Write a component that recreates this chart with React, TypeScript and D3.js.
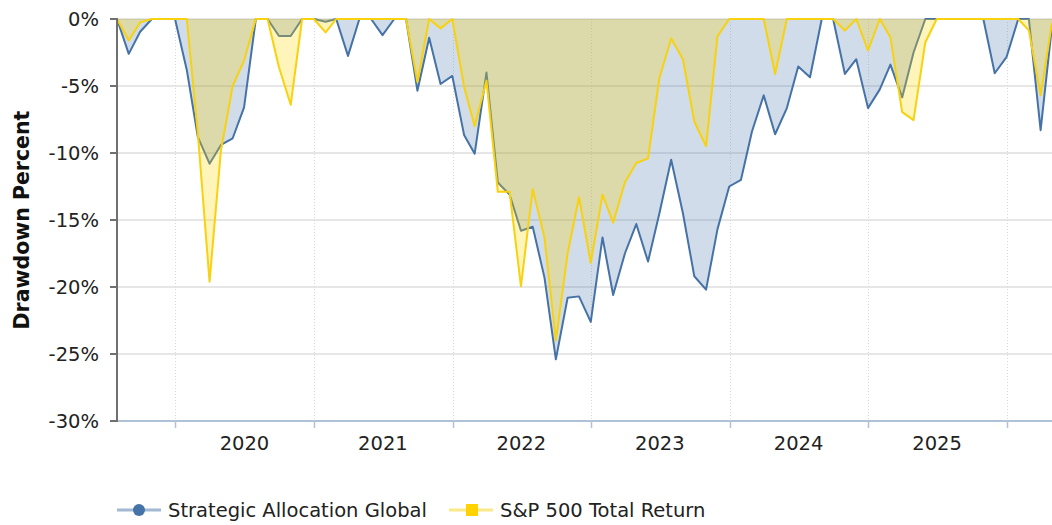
import React from "react";
import * as d3 from "d3";

// month-end observations, Jul 2019 .. Apr 2026
const firstMonthEnd = "2019-07-31";
const lastMonthEnd = "2026-04-30";

// drawdown in percent, one value per month-end
const strategic = [
  0, -2.6, -0.95, 0, 0, 0,
  -3.8, -8.8, -10.8, -9.4, -8.9, -6.6, 0, 0, -1.27, -1.27, 0, 0,
  -0.2, 0, -2.75, 0, 0, -1.2, 0, 0, -5.35, -1.4, -4.85, -4.25,
  -8.65, -10.05, -4.0, -12.2, -13.1, -15.8, -15.5, -19.3, -25.4, -20.8, -20.7, -22.6,
  -16.3, -20.6, -17.5, -15.3, -18.1, -14.5, -10.5, -14.5, -19.2, -20.2, -15.7, -12.5,
  -12.0, -8.4, -5.7, -8.6, -6.65, -3.55, -4.35, 0, 0, -4.1, -3.0, -6.65,
  -5.25, -3.4, -5.85, -2.5, 0, 0, 0, 0, 0, 0, -4.05, -2.85,
  0, 0, -8.3, -0.5,
];

const sp500 = [
  0, -1.6, -0.25, 0, 0, 0,
  0, -8.5, -19.6, -9.8, -5.0, -3.1, 0, 0, -3.6, -6.4, 0, 0,
  -1.0, 0, 0, 0, 0, 0, 0, 0, -4.7, 0, -0.7, 0,
  -5.05, -8.0, -4.6, -12.9, -12.9, -19.95, -12.7, -16.3, -24.0, -17.5, -13.3, -18.2,
  -13.1, -15.2, -12.2, -10.75, -10.4, -4.4, -1.45, -3.0, -7.65, -9.5, -1.3, 0,
  0, 0, 0, -4.1, 0, 0, 0, 0, 0, -0.87, 0, -2.35,
  0, -1.37, -6.95, -7.55, -1.75, 0, 0, 0, 0, 0, 0, 0,
  0, -0.85, -5.7, -0.3,
];

const seriesNames = ["Strategic Allocation Global", "S&P 500 Total Return"];
const yTicks = [0, -5, -10, -15, -20, -25, -30];
const yearLabels = [2020, 2021, 2022, 2023, 2024, 2025];
const yearBreaks = [2020, 2021, 2022, 2023, 2024, 2025, 2026];

const BLUE = "#4572a7";
const GOLD = "#f8d10f";
const FONT = "'DejaVu Sans', Verdana, sans-serif";
const LABEL_SIZE = 19.5;

export default function App() {
  const width = 1052;
  const height = 525;
  const margin = { top: 19, right: 0, bottom: 104, left: 117 };

  const parse = d3.timeParse("%Y-%m-%d");
  const first = parse(firstMonthEnd)!;
  const last = parse(lastMonthEnd)!;
  // month-end dates between first and last
  const dates = d3.timeMonth
    .range(d3.timeDay.offset(first, 1), d3.timeDay.offset(last, 2))
    .map((d) => d3.timeDay.offset(d, -1));

  const x = d3
    .scaleTime()
    .domain([first, last])
    .range([margin.left, width - margin.right]);

  const y = d3
    .scaleLinear()
    .domain([-30, 0])
    .range([height - margin.bottom, margin.top]);

  const area = d3
    .area<number>()
    .x((d, i) => x(dates[i]))
    .y0(y(0))
    .y1((d) => y(d));

  const line = d3
    .line<number>()
    .x((d, i) => x(dates[i]))
    .y((d) => y(d));

  const plotBottom = y(-30);
  const plotTop = y(0);

  return (
    <div style={{ position: "fixed", left: 0, top: 0 }}>
      <svg width={width} height={height} style={{ display: "block" }} fontFamily={FONT}>
        <rect width={width} height={height} fill="#fff" />

        {/* horizontal grid */}
        {yTicks.slice(0, -1).map((t) => (
          <line key={t} x1={margin.left} x2={width} y1={y(t)} y2={y(t)} stroke="#e6e6e6" strokeWidth={2} />
        ))}

        {/* vertical year grid */}
        {yearBreaks.map((yr) => {
          const xp = Math.round(x(new Date(yr, 0, 1))) + 0.5;
          return (
            <line key={yr} x1={xp} x2={xp} y1={plotTop} y2={plotBottom} stroke="#d8d8d8" strokeDasharray="1,2" />
          );
        })}

        {/* series */}
        <path d={area(strategic)!} fill={BLUE} fillOpacity={0.25} />
        <path d={line(strategic)!} fill="none" stroke={BLUE} strokeWidth={2} strokeLinejoin="round" />
        <path d={area(sp500)!} fill="#ffd700" fillOpacity={0.27} />
        <path d={line(sp500)!} fill="none" stroke={GOLD} strokeWidth={2} strokeLinejoin="round" />

        {/* x axis */}
        <line x1={margin.left} x2={width} y1={plotBottom} y2={plotBottom} stroke="#b0c2d8" strokeWidth={2} />
        {yearBreaks.map((yr) => {
          const xp = Math.round(x(new Date(yr, 0, 1))) + 0.5;
          return <line key={yr} x1={xp} x2={xp} y1={plotBottom} y2={plotBottom + 7} stroke="#b0c2d8" strokeWidth={1.5} />;
        })}
        {yearLabels.map((yr) => (
          <text key={yr} x={x(new Date(yr, 6, 1))} y={450} textAnchor="middle" fontSize={LABEL_SIZE} fill="#222">
            {yr}
          </text>
        ))}

        {/* y axis */}
        <line x1={margin.left} x2={margin.left} y1={plotTop - 1} y2={plotBottom + 1} stroke="#707070" strokeWidth={2} />
        {yTicks.map((t) => (
          <g key={t}>
            <line x1={margin.left - 7} x2={margin.left} y1={y(t)} y2={y(t)} stroke="#707070" strokeWidth={2} />
            <text x={margin.left - 18} y={y(t)} dy="0.35em" textAnchor="end" fontSize={LABEL_SIZE} fill="#222">
              {t}%
            </text>
          </g>
        ))}
        <text
          transform={`translate(29,${(plotTop + plotBottom) / 2}) rotate(-90)`}
          textAnchor="middle"
          fontSize={20.5}
          fontWeight="bold"
          fill="#111"
        >
          Drawdown Percent
        </text>

        {/* legend */}
        <g transform="translate(0,510)">
          <line x1={117} x2={161} y1={0} y2={0} stroke={BLUE} strokeOpacity={0.5} strokeWidth={3} />
          <circle cx={139} cy={0} r={6} fill={BLUE} />
          <text x={168} dy="0.35em" fontSize={LABEL_SIZE} fill="#222">
            {seriesNames[0]}
          </text>
          <line x1={449} x2={493} y1={0} y2={0} stroke={GOLD} strokeOpacity={0.5} strokeWidth={3} />
          <rect x={466} y={-6} width={12} height={12} fill="#ffd200" />
          <text x={500} dy="0.35em" fontSize={LABEL_SIZE} fill="#222">
            {seriesNames[1]}
          </text>
        </g>
      </svg>
    </div>
  );
}
